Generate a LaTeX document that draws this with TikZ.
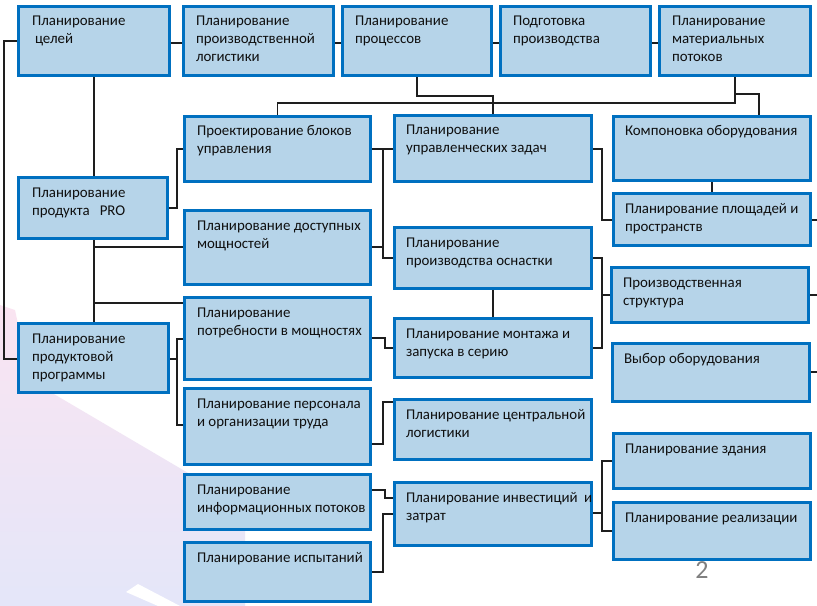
\documentclass[tikz,border=0pt]{standalone}
\usepackage{fontspec}
\setmainfont{Carlito}
\newfontfamily\numfont{Carlito}
\usetikzlibrary{calc}
\pgfdeclarelayer{wm}
\pgfdeclarelayer{conn}
\pgfsetlayers{wm,conn,main}
\definecolor{boxfill}{RGB}{182,212,233}
\definecolor{boxline}{RGB}{0,112,192}
\definecolor{conncol}{RGB}{30,30,30}
\definecolor{txtcol}{RGB}{15,15,15}
\definecolor{wmpink}{RGB}{250,228,241}
\definecolor{wmlav}{RGB}{228,230,249}
\definecolor{numcol}{RGB}{128,128,128}
\tikzset{
  box/.style={draw=boxline, fill=boxfill, line width=3bp, inner sep=0pt, outer sep=0pt},
  txt/.style={inner sep=0pt, outer sep=0pt, align=left, text=txtcol,
    font=\fontsize{14.9bp}{18bp}\selectfont},
  conn/.style={draw=conncol, line width=1.3bp, line join=miter}
}
\newcommand\bx[7]{%
  \node[box, minimum width={#4bp-#2bp-3bp}, minimum height={#5bp-#3bp-3bp}, anchor=north west]
     (#1) at ({#2+1.5},{#3+1.5}) {};
  \node[txt, anchor=north west] (#1t) at ({#2+#6},{#3+21-12}) {\rule{0pt}{12bp}#7};
}
\begin{document}
\begin{tikzpicture}[x=1bp,y=-1bp]
\useasboundingbox (0,0) rectangle (817,606);
\begin{pgfonlayer}{wm}
  \fill[white] (0,0) rectangle (817,606);
  \shade[top color=wmpink, bottom color=wmlav]
    (0,305) -- (15,310) -- (30,380) -- (200,480) -- (245,512) -- (245,606) -- (0,606) -- cycle;
  \fill[white] (126,592) -- (138,584) -- (180,606) -- (158,606) -- cycle;
\end{pgfonlayer}
\node[font=\fontsize{26bp}{26bp}\numfont, text=numcol, anchor=base, inner sep=0pt] (pg) at (702,578) {2};

% column 1
\bx{celi}{17}{5}{171}{77}{15}{Планирование\\\hspace*{3bp}целей}
\bx{pro}{17}{176}{169}{240}{15}{Планирование\\продукта\hspace{10bp}PRO}
\bx{prog}{17}{322}{170}{394}{15}{Планирование\\продуктовой\\программы}
% top row
\bx{log}{182}{5}{335}{77}{14}{Планирование\\производственной\\логистики}
\bx{proc}{341}{5}{493}{77}{14}{Планирование\\процессов}
\bx{podg}{499}{5}{652}{77}{14}{Подготовка\\производства}
\bx{mat}{658}{5}{812}{77}{14}{Планирование\\материальных\\потоков}
% column 2
\bx{blok}{183}{115}{372}{183}{14}{Проектирование блоков\\управления}
\bx{dost}{183}{209}{372}{286}{14}{Планирование доступных\\мощностей}
\bx{potr}{183}{296}{372}{381}{14}{Планирование\\потребности в мощностях}
\bx{pers}{183}{387}{372}{466}{14}{Планирование персонала\\и организации труда}
\bx{info}{183}{473}{372}{531}{14}{Планирование\\информационных потоков}
\bx{isp}{183}{541}{372}{603}{14}{Планирование испытаний}
% column 3
\bx{upr}{393}{114}{593}{183}{13}{Планирование\\управленческих задач}
\bx{osn}{393}{226}{593}{290}{13}{Планирование\\производства оснастки}
\bx{mont}{393}{317}{593}{379}{13}{Планирование монтажа и\\запуска в серию}
\bx{cent}{393}{398}{593}{461}{13}{Планирование центральной\\логистики}
\bx{inv}{393}{481}{593}{547}{13}{Планирование инвестиций\hspace{6.5bp}и\\затрат}
% column 4
\bx{komp}{612}{115}{812}{182}{13}{Компоновка оборудования}
\bx{plo}{612}{192}{812}{247}{13}{Планирование площадей и\\пространств}
\bx{str}{610}{266}{810}{324}{13}{Производственная\\структура}
\bx{vyb}{611}{342}{811}{403}{13}{Выбор оборудования}
\bx{zd}{612}{432}{812}{490}{13}{Планирование здания}
\bx{real}{612}{501}{812}{561}{13}{Планирование реализации}

\coordinate (e1) at (817,220);
\coordinate (e2) at (817,295);
\coordinate (e3) at (817,372);

\begin{pgfonlayer}{conn}
  % left spine
  \draw[conn] (celi.west |- 0,41) -- (4,41) -- (4,359) -- (prog.west |- 0,359);
  % top row chain
  \draw[conn] (celi.east |- 0,43) -- (log.west |- 0,43);
  \draw[conn] (log.east |- 0,43) -- (proc.west |- 0,43);
  \draw[conn] (proc.east |- 0,43) -- (podg.west |- 0,43);
  \draw[conn] (podg.east |- 0,43) -- (mat.west |- 0,43);
  % vertical trunk col 1
  \draw[conn] (94,0 |- celi.south) -- (94,0 |- pro.north);
  \draw[conn] (94,0 |- pro.south) -- (94,0 |- prog.north);
  \draw[conn] (94,247) -- (dost.west |- 0,247);
  \draw[conn] (94,303) -- (potr.west |- 0,303);
  % pro -> blok
  \draw[conn] (pro.east |- 0,208) -- (177,208) -- (177,149) -- (blok.west |- 0,149);
  % prog -> potr, pers
  \draw[conn] (prog.east |- 0,359) -- (177,359);
  \draw[conn] (potr.west |- 0,339) -- (177,339) -- (177,425) -- (pers.west |- 0,425);
  % top distribution
  \draw[conn] (proc.south) -- (proc.south |- 0,96) -- (upr.north |- 0,96) -- (upr.north);
  \draw[conn] (blok.north) -- (blok.north |- 0,103) -- (mat.south |- 0,103) -- (mat.south);
  \draw[conn] (mat.south |- 0,94) -- (759,94) -- (759,0 |- komp.north);
  % col2 -> col3
  \draw[conn] (blok.east |- 0,149) -- (upr.west |- 0,149);
  \draw[conn] (383,149) -- (383,258) -- (osn.west |- 0,258);
  \draw[conn] (dost.east |- 0,247) -- (383,247);
  \draw[conn] (osn.south) -- (osn.south |- mont.north);
  \draw[conn] (potr.east |- 0,338) -- (385,338) -- (385,348) -- (mont.west |- 0,348);
  \draw[conn] (pers.east |- 0,444) -- (383,444) -- (383,402) -- (cent.west |- 0,402);
  \draw[conn] (info.east |- 0,490) -- (385,490) -- (385,498) -- (inv.west |- 0,498);
  \draw[conn] (isp.east |- 0,572) -- (383,572) -- (383,514) -- (inv.west |- 0,514);
  % col3 -> col4
  \draw[conn] (upr.east |- 0,149) -- (602,149) -- (602,220) -- (plo.west |- 0,220);
  \draw[conn] (komp.south) -- (komp.south |- plo.north);
  \draw[conn] (osn.east |- 0,258) -- (602,258) -- (602,348) -- (mont.east |- 0,348);
  \draw[conn] (602,295) -- (str.west |- 0,295);
  \draw[conn] (inv.east |- 0,513) -- (602,513);
  \draw[conn] (zd.west |- 0,461) -- (602,461) -- (602,531) -- (real.west |- 0,531);
  % right stubs
  \draw[conn] (plo.east |- e1) -- (e1);
  \draw[conn] (str.east |- e2) -- (e2);
  \draw[conn] (vyb.east |- e3) -- (e3);
\end{pgfonlayer}
\end{tikzpicture}
\end{document}
